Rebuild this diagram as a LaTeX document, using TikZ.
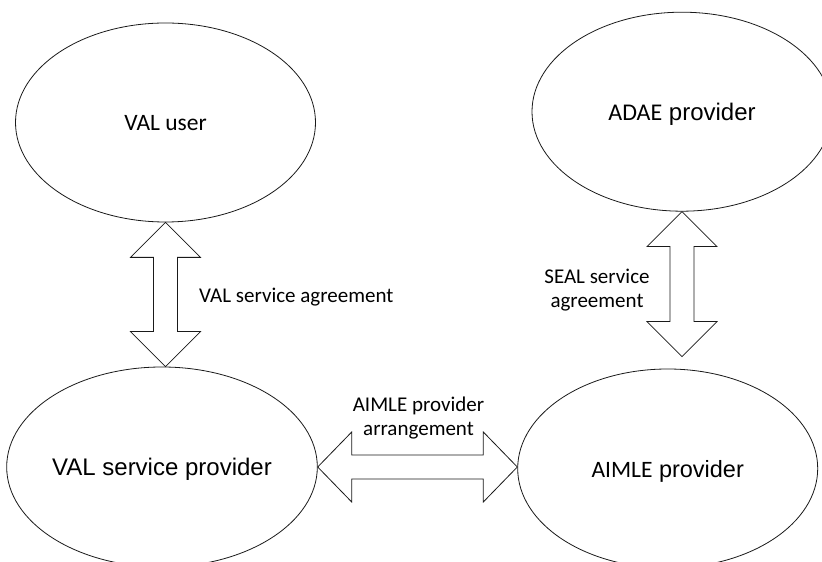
\documentclass[tikz,border=0pt]{standalone}
\usepackage{fontspec}
\setmainfont{Liberation Sans}
\newfontfamily\calfont{Carlito}
\usetikzlibrary{shapes.geometric,calc}
\definecolor{dgink}{HTML}{1A1A1A}
\tikzset{
  party/.style={ellipse,draw=dgink,line width=.8pt,inner sep=0pt,
    minimum width=300pt,minimum height=199pt,text=black,text depth=0pt},
  deal/.style={draw=dgink,line width=.8pt,fill=white,line join=miter},
  note/.style={font=\calfont\fontsize{21}{24}\selectfont,text=black,
    inner sep=0pt},
}
% vertical double block arrow, #1 upper tip, #2 lower tip
\newcommand{\vdeal}[2]{%
  \draw[deal] let \p1=(#1), \p2=(#2) in
    (\x1,\y1) -- (\x1-35pt,\y1-35pt) -- (\x1-12pt,\y1-35pt)
    -- (\x1-12pt,\y2+35pt) -- (\x1-35pt,\y2+35pt) -- (\x1,\y2)
    -- (\x1+35pt,\y2+35pt) -- (\x1+12pt,\y2+35pt)
    -- (\x1+12pt,\y1-35pt) -- (\x1+35pt,\y1-35pt) -- cycle;
}
% horizontal double block arrow, #1 left tip, #2 right tip
\newcommand{\hdeal}[2]{%
  \draw[deal] let \p1=(#1), \p2=(#2) in
    (\x1,\y1) -- (\x1+34pt,\y1+35pt) -- (\x1+34pt,\y1+12pt)
    -- (\x2-34pt,\y1+12pt) -- (\x2-34pt,\y1+35pt) -- (\x2,\y1)
    -- (\x2-34pt,\y1-35pt) -- (\x2-34pt,\y1-12pt)
    -- (\x1+34pt,\y1-12pt) -- (\x1+34pt,\y1-35pt) -- cycle;
}

\begin{document}
\begin{tikzpicture}[x=1pt,y=1pt,line cap=round,line join=round]
\useasboundingbox (0,0) rectangle (822,562);
\fill[white] (0,0) rectangle (822,562);

% Parties.
\node[party,font=\calfont\fontsize{23.5}{26}\selectfont] (valuser)
  at (165.5,439.5) {VAL user};
\node[party,font=\fontsize{24}{26}\selectfont] (adae)
  at (682,450.3) {{\calfont ADAE} provider};
\node[party,minimum height=200pt,font=\fontsize{24}{26}\selectfont] (valsp)
  at (162,95) {VAL service provider};
\node[party,font=\fontsize{23.5}{26}\selectfont] (aimle)
  at (667.7,93.5) {{\calfont AIMLE} provider};

% Agreements.
\coordinate (sealend) at ([yshift=-145pt]adae.south);
\vdeal{valuser.south}{valsp.north}
\vdeal{adae.south}{sealend}
\hdeal{valsp.east}{aimle.west}

\node[note,anchor=base west] (valagr) at (199,259.3)
  {VAL service agreement};
\node[note,align=center] (sealagr) at (597,271.5)
  {SEAL service\\agreement};
\node[note,align=center] (aimlearr) at (418.5,143.5)
  {AIMLE provider\\arrangement};

\end{tikzpicture}
\end{document}
